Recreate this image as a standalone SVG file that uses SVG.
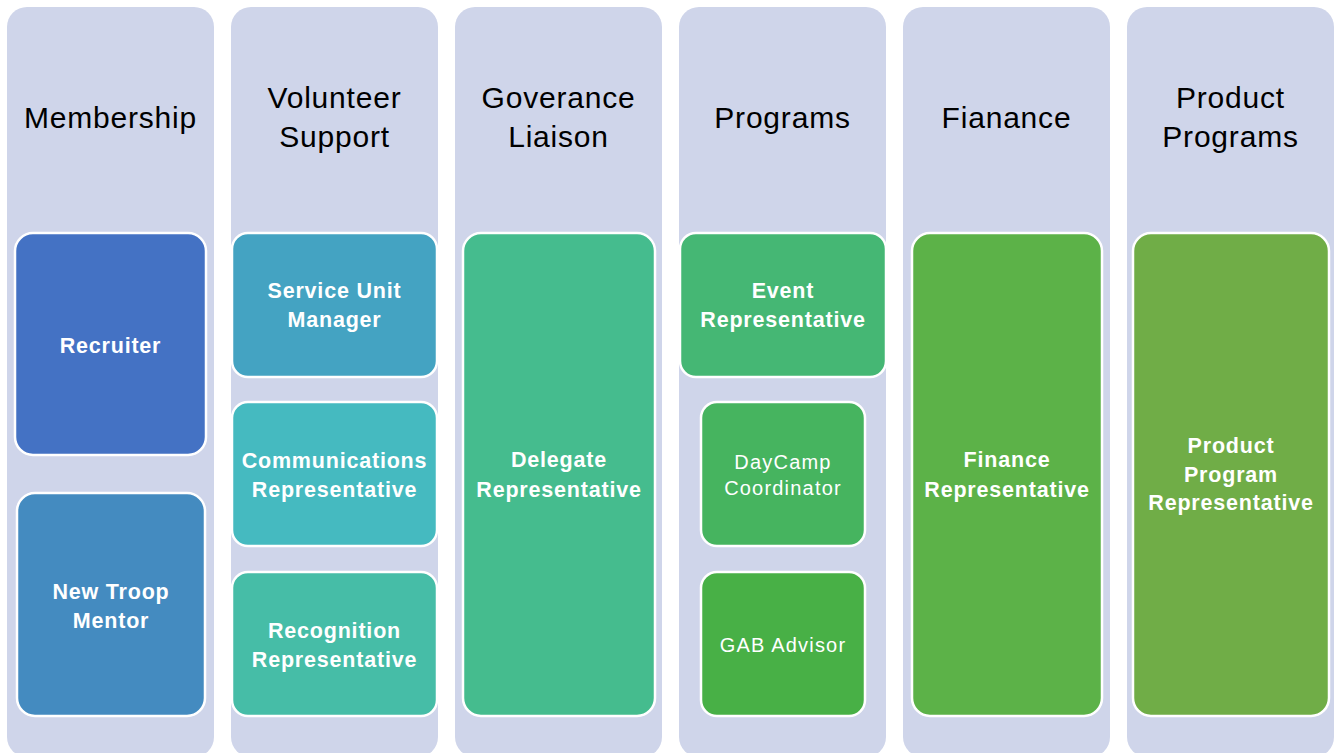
<svg xmlns="http://www.w3.org/2000/svg" width="1336" height="753" viewBox="0 0 1336 753">
<style>
.col{fill:#CFD5EA}
.box{stroke:#FFFFFF;stroke-width:2.5}
.hdr{font-family:"Liberation Sans",Arial,sans-serif;font-size:30px;fill:#000000;text-anchor:middle;letter-spacing:0.8px}
.lbl{font-family:"Liberation Sans",Arial,sans-serif;font-size:21.5px;font-weight:bold;fill:#FFFFFF;text-anchor:middle;letter-spacing:0.8px}
.lblr{font-family:"Liberation Sans",Arial,sans-serif;font-size:20px;fill:#FFFFFF;text-anchor:middle;letter-spacing:1.2px}
</style>
<rect width="1336" height="753" fill="#FFFFFF"/>
<g id="col-membership">
<rect class="col" x="7" y="7" width="207" height="750" rx="20"/>
<text class="hdr" x="110.5" y="128">Membership</text>
</g>
<g id="col-volunteer">
<rect class="col" x="231" y="7" width="207" height="750" rx="20"/>
<text class="hdr" x="334.5" y="108">Volunteer</text>
<text class="hdr" x="334.5" y="147">Support</text>
</g>
<g id="col-governance">
<rect class="col" x="455" y="7" width="207" height="750" rx="20"/>
<text class="hdr" x="558.5" y="108">Goverance</text>
<text class="hdr" x="558.5" y="147">Liaison</text>
</g>
<g id="col-programs">
<rect class="col" x="679" y="7" width="207" height="750" rx="20"/>
<text class="hdr" x="782.5" y="128">Programs</text>
</g>
<g id="col-finance">
<rect class="col" x="903" y="7" width="207" height="750" rx="20"/>
<text class="hdr" x="1006.5" y="128">Fianance</text>
</g>
<g id="col-product">
<rect class="col" x="1127" y="7" width="207" height="750" rx="20"/>
<text class="hdr" x="1230.5" y="108">Product</text>
<text class="hdr" x="1230.5" y="147">Programs</text>
</g>
<g id="recruiter">
<rect class="box" x="15" y="233" width="191" height="222" rx="18" fill="#4472C4"/>
<text class="lbl" x="110.5" y="353">Recruiter</text>
</g>
<g id="new-troop-mentor">
<rect class="box" x="17" y="493" width="188" height="223" rx="18" fill="#448BC0"/>
<text class="lbl" x="111" y="599">New Troop</text>
<text class="lbl" x="111" y="628">Mentor</text>
</g>
<g id="service-unit-manager">
<rect class="box" x="232" y="233" width="205" height="144" rx="16" fill="#44A3C2"/>
<text class="lbl" x="334.5" y="298">Service Unit</text>
<text class="lbl" x="334.5" y="327">Manager</text>
</g>
<g id="communications">
<rect class="box" x="232" y="402" width="205" height="144" rx="16" fill="#45BAC0"/>
<text class="lbl" x="334.5" y="468">Communications</text>
<text class="lbl" x="334.5" y="497">Representative</text>
</g>
<g id="recognition">
<rect class="box" x="232" y="572" width="205" height="144" rx="16" fill="#46BDA7"/>
<text class="lbl" x="334.5" y="638">Recognition</text>
<text class="lbl" x="334.5" y="667">Representative</text>
</g>
<g id="delegate">
<rect class="box" x="463" y="233" width="192" height="483" rx="18" fill="#45BC8E"/>
<text class="lbl" x="559" y="467">Delegate</text>
<text class="lbl" x="559" y="497">Representative</text>
</g>
<g id="event">
<rect class="box" x="680" y="233" width="206" height="144" rx="16" fill="#45B774"/>
<text class="lbl" x="783" y="298">Event</text>
<text class="lbl" x="783" y="327">Representative</text>
</g>
<g id="daycamp">
<rect class="box" x="701" y="402" width="164" height="144" rx="16" fill="#46B45F"/>
<text class="lblr" x="783" y="469">DayCamp</text>
<text class="lblr" x="783" y="495">Coordinator</text>
</g>
<g id="gab-advisor">
<rect class="box" x="701" y="572" width="164" height="144" rx="16" fill="#48B046"/>
<text class="lblr" x="783" y="652">GAB Advisor</text>
</g>
<g id="finance">
<rect class="box" x="912" y="233" width="190" height="483" rx="18" fill="#5CB248"/>
<text class="lbl" x="1007" y="467">Finance</text>
<text class="lbl" x="1007" y="497">Representative</text>
</g>
<g id="product-program">
<rect class="box" x="1133" y="233" width="196" height="483" rx="18" fill="#70AD47"/>
<text class="lbl" x="1231" y="453">Product</text>
<text class="lbl" x="1231" y="482">Program</text>
<text class="lbl" x="1231" y="510">Representative</text>
</g>
<g id="connectors"></g>
</svg>
